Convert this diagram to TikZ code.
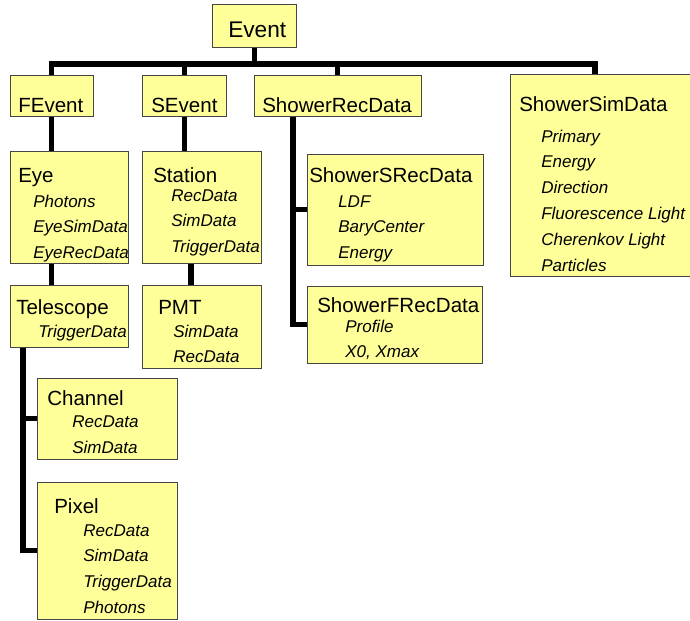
\documentclass[tikz,border=0pt]{standalone}
\usepackage{fontspec}
\setmainfont{Liberation Sans}
\definecolor{classyellow}{RGB}{255,255,153}
\definecolor{classborder}{RGB}{70,70,70}

% box of one class, given by its top left corner and size in pixels
\newcommand\classbox[5]{%
  \node[cls, minimum width=#4*0.025cm, minimum height=#5*0.025cm] (#1) at (#2,#3) {};}

\begin{document}
\begin{tikzpicture}[
    x=0.025cm, y=-0.025cm,
    cls/.style={draw=classborder, fill=classyellow, line width=0.6pt,
      anchor=north west, inner sep=0pt},
    top/.style={anchor=base west, inner sep=0pt, font=\fontsize{16.1}{18}\selectfont},
    title/.style={anchor=base west, inner sep=0pt, font=\fontsize{14.6}{17}\selectfont},
    item/.style={anchor=base west, inner sep=0pt, font=\fontsize{12.1}{14}\selectfont\itshape},
    link/.style={line width=3.6pt, line join=miter}
    ]
    \useasboundingbox (0,0) rectangle (690,620);

    % Classes
    \classbox{event}{212}{4}{84}{43}
    \classbox{fevent}{10}{75}{83}{41}
    \classbox{sevent}{142}{75}{84}{41}
    \classbox{showerrec}{254}{75}{167}{41}
    \classbox{showersim}{510}{74}{200}{202}
    \classbox{eye}{10}{151}{118}{112}
    \classbox{station}{142}{151}{119}{112}
    \classbox{showers}{307}{154}{176}{111}
    \classbox{showerf}{307}{286}{175}{77}
    \classbox{telescope}{10}{285}{118}{62}
    \classbox{pmt}{142}{285}{119}{83}
    \classbox{channel}{37}{378}{140}{81}
    \classbox{pixel}{37}{482}{140}{137}

    % Names
    \node[top] (event-t) at (228,37) {Event};
    \node[title] (fevent-t) at (18,112) {FEvent};
    \node[title] (sevent-t) at (151,112) {SEvent};
    \node[title] (showerrec-t) at (262,112) {ShowerRecData};
    \node[title] (showersim-t) at (519,111) {ShowerSimData};
    \node[title] (eye-t) at (18,182) {Eye};
    \node[title] (station-t) at (153,182) {Station};
    \node[title] (showers-t) at (309,182) {ShowerSRecData};
    \node[title] (showerf-t) at (317,312) {ShowerFRecData};
    \node[title] (telescope-t) at (16,314) {Telescope};
    \node[title] (pmt-t) at (158,314) {PMT};
    \node[title] (channel-t) at (47,405) {Channel};
    \node[title] (pixel-t) at (54,513) {Pixel};

    % Members
    \foreach \m [count=\i] in {Primary, Energy, Direction, Fluorescence Light,
        Cherenkov Light, Particles}
        \node[item] (showersim-\i) at (541,{142+25.8*(\i-1)}) {\m};
    \foreach \m [count=\i] in {Photons, EyeSimData, EyeRecData}
        \node[item] (eye-\i) at (33,{207+25.5*(\i-1)}) {\m};
    \foreach \m [count=\i] in {RecData, SimData, TriggerData}
        \node[item] (station-\i) at (171,{201+25.5*(\i-1)}) {\m};
    \foreach \m [count=\i] in {LDF, BaryCenter, Energy}
        \node[item] (showers-\i) at (338,{207+25.5*(\i-1)}) {\m};
    \foreach \m [count=\i] in {Profile, {X0, Xmax}}
        \node[item] (showerf-\i) at (345,{332+25*(\i-1)}) {\m};
    \node[item] (telescope-1) at (38,337) {TriggerData};
    \foreach \m [count=\i] in {SimData, RecData}
        \node[item] (pmt-\i) at (173,{337+25*(\i-1)}) {\m};
    \foreach \m [count=\i] in {RecData, SimData}
        \node[item] (channel-\i) at (72,{427+26*(\i-1)}) {\m};
    \foreach \m [count=\i] in {RecData, SimData, TriggerData, Photons}
        \node[item] (pixel-\i) at (83,{536+25.7*(\i-1)}) {\m};

    % Tree
    \coordinate (bus) at (0,64);
    \coordinate (simx) at (595,0);
    \coordinate (pmtx) at (191,0);
    \coordinate (recx) at (293,0);
    \coordinate (telx) at (23,0);
    \draw[link] (event.south) -- (event.south |- bus);
    \draw[link] (fevent.north) |- (simx |- bus) -- (simx |- showersim.north);
    \draw[link] (sevent.north) -- (sevent.north |- bus);
    \draw[link] (showerrec.north) -- (showerrec.north |- bus);
    \draw[link] (fevent.south) -- (fevent.south |- eye.north);
    \draw[link] (sevent.south) -- (sevent.south |- station.north);
    \draw[link] (fevent.south |- eye.south) -- (fevent.south |- telescope.north);
    \draw[link] (pmtx |- station.south) -- (pmtx |- pmt.north);
    \draw[link] (recx |- showerrec.south) |- (showerf.west);
    \draw[link] (recx |- showers.west) -- (showers.west);
    \draw[link] (telx |- telescope.south) |- (pixel.west);
    \draw[link] (telx |- channel.west) -- (channel.west);
\end{tikzpicture}
\end{document}
